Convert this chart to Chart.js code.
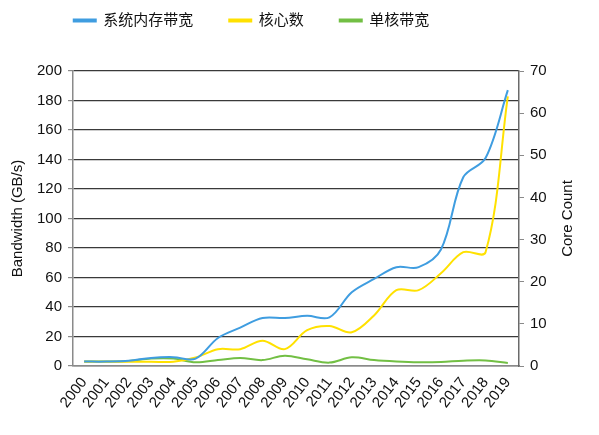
<!DOCTYPE html>
<html>
<head>
<meta charset="utf-8">
<script src="https://cdn.jsdelivr.net/npm/chart.js"></script>
<style>
  html, body { margin: 0; padding: 0; background: #fff; }
  #wrap { width: 599px; height: 435px; }
</style>
</head>
<body>
<div id="wrap"><canvas id="c"></canvas></div>
<script>
// data
const years = ["2000", "2001", "2002", "2003", "2004", "2005", "2006", "2007", "2008", "2009",
  "2010", "2011", "2012", "2013", "2014", "2015", "2016", "2017", "2018", "2019"];
const memBandwidth = [3, 3, 3.5, 5.5, 6, 5, 19, 26, 32.5, 32.5, 34, 33, 50, 59, 67, 67, 79, 128, 141, 187];
const coreCount = [1, 1, 1, 1, 1, 2, 4, 4, 6, 4, 8.5, 9.5, 8, 12, 18, 18, 22, 27, 27, 64];
const perCoreBandwidth = [3, 3, 3.4, 5, 5, 2.5, 4, 5.4, 4, 7, 4.5, 2.3, 5.9, 4, 3, 2.5, 2.7, 3.6, 3.8, 2];
const leftTicks = [0, 20, 40, 60, 80, 100, 120, 140, 160, 180, 200];
const rightTicks = [0, 10, 20, 30, 40, 50, 60, 70];
const rightTitle = "Core Count";

const font = "'Liberation Sans', Arial, 'Noto Sans CJK SC', sans-serif";

// move the legend to where the original sits
const legendNudge = {
  id: "legendNudge",
  afterLayout(chart) {
    const lg = chart.legend;
    lg.left -= 48; lg.right -= 48;
    lg.top -= 33; lg.bottom -= 33;
  }
};

// right axis title reads bottom-to-top in the original
const rightTitlePlugin = {
  id: "rightTitle",
  afterDraw(chart) {
    const { ctx, chartArea } = chart;
    ctx.save();
    ctx.translate(568, (chartArea.top + chartArea.bottom) / 2);
    ctx.rotate(-Math.PI / 2);
    ctx.fillStyle = "#111";
    ctx.font = "15px " + font;
    ctx.textAlign = "center";
    ctx.textBaseline = "middle";
    ctx.fillText(rightTitle, 0, 0);
    ctx.restore();
  }
};

const line = (label, data, color, axis) => ({
  label, data, yAxisID: axis,
  borderColor: color, backgroundColor: color,
  borderWidth: 2, pointRadius: 0, tension: 0.35, fill: false
});

new Chart(document.getElementById("c"), {
  type: "line",
  data: {
    labels: years,
    datasets: [
      line("系统内存带宽", memBandwidth, "#3f9de0", "y"),
      line("核心数", coreCount, "#ffe100", "y1"),
      line("单核带宽", perCoreBandwidth, "#72bf44", "y")
    ]
  },
  options: {
    responsive: true,
    maintainAspectRatio: false,
    animation: false,
    layout: { padding: { top: 10 } },
    plugins: {
      legend: {
        position: "top",
        labels: {
          boxWidth: 22, boxHeight: 2, padding: 36,
          color: "#111", font: { family: font, size: 15 }
        }
      },
      tooltip: { enabled: false }
    },
    scales: {
      x: {
        offset: true,
        grid: { display: false, drawTicks: false },
        border: { display: true, color: "#8a8a8a", width: 1.5 },
        ticks: {
          autoSkip: false, minRotation: 52, maxRotation: 52, padding: 8,
          color: "#111", font: { family: font, size: 15 }
        },
        afterFit(s) { s.height = 69; }
      },
      y: {
        position: "left",
        min: 0, max: 200,
        afterBuildTicks(s) { s.ticks = leftTicks.map(v => ({ value: v })); },
        grid: { color: "#3a3a3a", lineWidth: 1.2, tickLength: 5, tickColor: "#8a8a8a" },
        border: { display: true, color: "#8a8a8a", width: 1.5 },
        ticks: { padding: 6, color: "#111", font: { family: font, size: 15 } },
        title: {
          display: true, text: "Bandwidth (GB/s)", color: "#111",
          font: { family: font, size: 15 }, padding: { top: 9, bottom: 0 }
        },
        afterFit(s) { s.width = 73; }
      },
      y1: {
        position: "right",
        min: 0, max: 70,
        afterBuildTicks(s) { s.ticks = rightTicks.map(v => ({ value: v })); },
        grid: { drawOnChartArea: false, tickLength: 5, color: "#8a8a8a" },
        border: { display: true, color: "#6a6a6a", width: 1.5 },
        ticks: { padding: 6, color: "#111", font: { family: font, size: 15 } },
        afterFit(s) { s.width = 80; }
      }
    }
  },
  plugins: [legendNudge, rightTitlePlugin]
});
</script>
</body>
</html>
